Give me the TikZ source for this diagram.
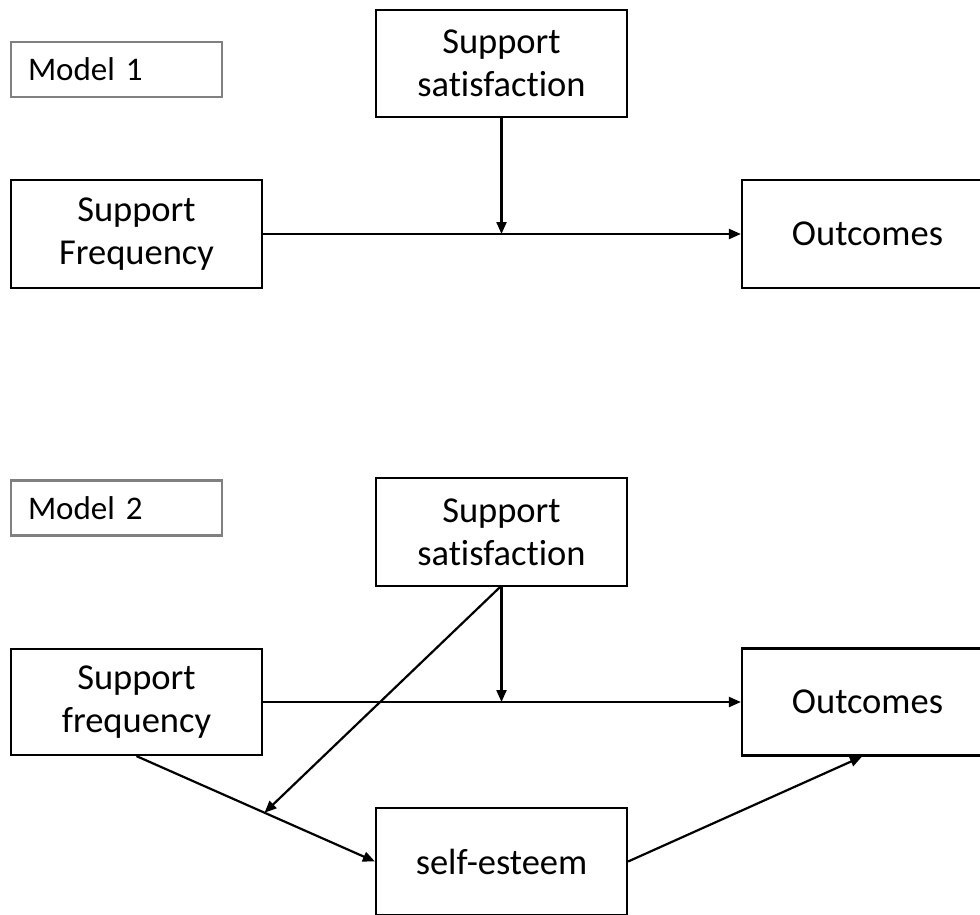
\documentclass[tikz,border=0pt]{standalone}
\usepackage{fontspec}
\setmainfont{Carlito}[Ligatures=NoCommon]
\usetikzlibrary{arrows.meta,calc}
\begin{document}
\begin{tikzpicture}[x=1pt,y=1pt,
  box/.style={draw=black,line width=2.2pt,fill=white,inner sep=0pt,align=center,
    minimum width=251pt,font=\fontsize{36.5}{43}\selectfont},
  modelbox/.style={draw=black!50,line width=2.6pt,fill=white,inner sep=0pt,
    minimum width=211pt,minimum height=55pt,text width=177pt,align=left,
    font=\fontsize{33}{40}\selectfont},
  conn/.style={line width=2.2pt,-{Triangle[length=12pt,width=10pt]}}]
\useasboundingbox (0,0) rectangle (980,-914);
\clip (0,0) rectangle (980,-914);
% Model 1
\node[modelbox] (m1) at (116.5,-69.5) {Model 1};
\node[box,minimum height=107pt] (ss1) at (501.5,-63.5) {Support\\satisfaction};
\node[box,minimum height=108pt] (sf1) at (136.5,-234) {Support\\Frequency};
\node[box,minimum height=108pt] (out1) at (867.5,-234) {Outcomes};
\draw[conn] (sf1.east) -- (out1.west);
\draw[conn] (ss1.south) -- (ss1.south |- sf1.east);
% Model 2
\node[modelbox] (m2) at (116.5,-508) {Model 2};
\node[box,minimum height=108pt] (ss2) at (501.5,-532) {Support\\satisfaction};
\node[box,minimum height=106pt] (sf2) at (136.5,-702) {Support\\frequency};
\node[box,minimum height=107pt] (out2) at (867.5,-702) {Outcomes};
\node[box,minimum height=107pt] (se) at (501.5,-861.5) {self-esteem};
\draw[conn] (sf2.east) -- (out2.west);
\draw[conn] (ss2.south) -- (ss2.south |- sf2.east);
\draw[conn] (sf2.south) -- (se.west);
\coordinate (mid) at ($(sf2.south)!0.537!(se.west)$);
\draw[conn] ([xshift=-1.5pt]ss2.south) -- (mid);
\coordinate (outin) at ([xshift=-5.5pt]out2.south);
\draw[conn] (se.east) -- (outin);
\end{tikzpicture}
\end{document}
